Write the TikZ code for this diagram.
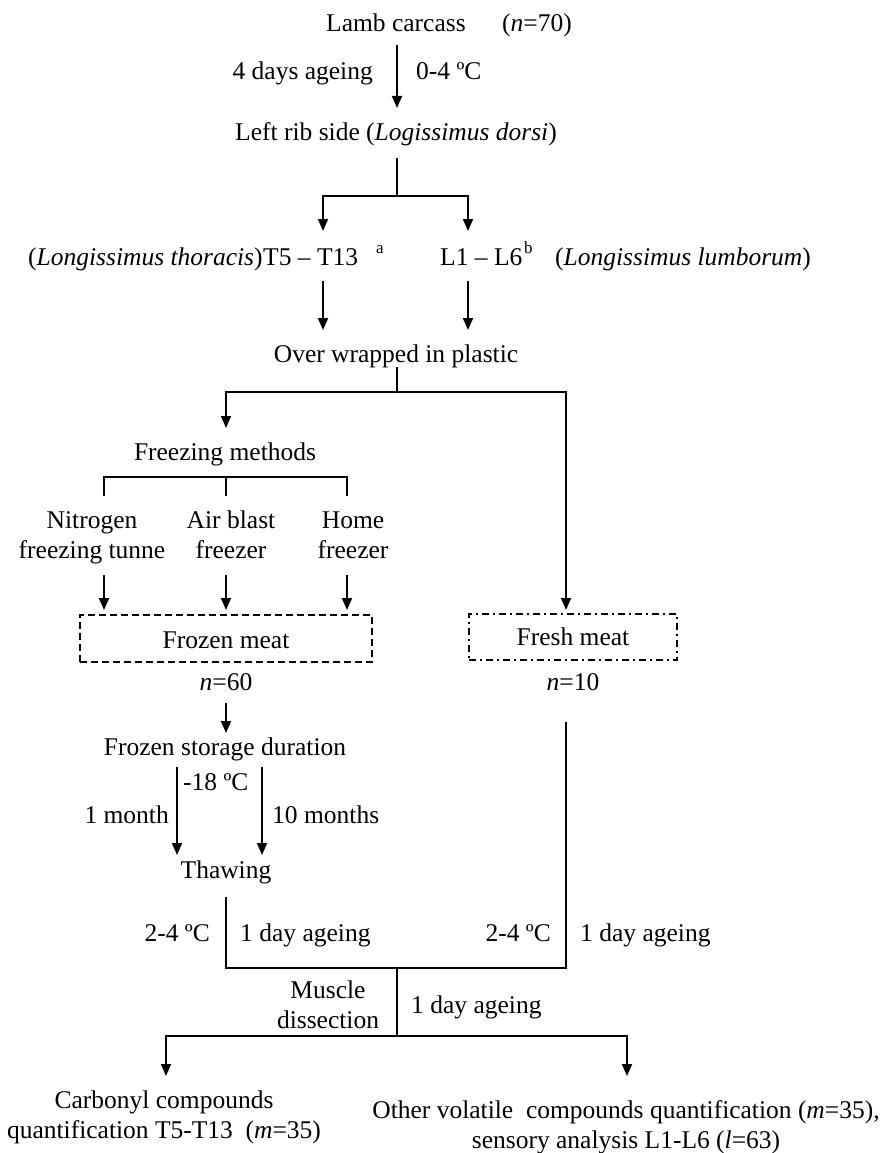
\documentclass[tikz,border=0pt]{standalone}
\usepackage{fontspec}
\setmainfont{Liberation Serif}
\usetikzlibrary{arrows.meta}
\begin{document}
\begin{tikzpicture}[x=1pt,y=-1pt,
  txt/.style={inner sep=0pt,font=\fontsize{25.5}{30}\selectfont},
  sup/.style={inner sep=0pt,font=\fontsize{17}{20}\selectfont},
  ln/.style={line width=1.8pt},
  arr/.style={line width=1.8pt,-{Triangle[length=12pt,width=10pt]}},
  frozenbox/.style={draw,line width=1.6pt,dash pattern=on 7pt off 4pt,minimum width=292pt,minimum height=47pt,inner sep=0pt},
  freshbox/.style={draw,line width=1.6pt,dash pattern=on 7pt off 4pt on 2pt off 4pt,minimum width=208pt,minimum height=46pt,inner sep=0pt}
]
\useasboundingbox[fill=white] (0,0) rectangle (882,1153);
% texts
\node[txt,anchor=base west] (lamb) at (326,32) {Lamb carcass};
\node[txt,anchor=base west] (n70) at (502,32) {(\textit{n}=70)};
\node[txt,anchor=base east] (age4) at (373,80) {4 days ageing};
\node[txt,anchor=base west] (t04) at (416,80) {0-4 ºC};
\node[txt,anchor=base] (left) at (396,140) {Left rib side (\textit{Logissimus dorsi})};
\node[txt,anchor=base west] (thor) at (28,265) {(\textit{Longissimus thoracis})};
\node[txt,anchor=base west] (tt) at (263,265) {T5 – T13};
\node[sup,anchor=base west] (supa) at (376,253) {a};
\node[txt,anchor=base west] (ll) at (440,265) {L1 – L6};
\node[sup,anchor=base west] (supb) at (524,253) {b};
\node[txt,anchor=base west] (lumb) at (555,265) {(\textit{Longissimus lumborum})};
\node[txt,anchor=base] (wrap) at (396,362) {Over wrapped in plastic};
\node[txt,anchor=base] (fm) at (225,460) {Freezing methods};
\node[txt,anchor=base] (nit) at (92,528) {Nitrogen};
\node[txt,anchor=base] (nit2) at (92,558) {freezing tunne};
\node[txt,anchor=base] (air) at (231,528) {Air blast};
\node[txt,anchor=base] (air2) at (231,558) {freezer};
\node[txt,anchor=base] (home) at (353,528) {Home};
\node[txt,anchor=base] (home2) at (353,558) {freezer};
\node[frozenbox] (frozen) at (226,638.5) {};
\node[txt,anchor=base] (frozent) at (226,648) {Frozen meat};
\node[freshbox] (fresh) at (573,637) {};
\node[txt,anchor=base] (fresht) at (573,645) {Fresh meat};
\node[txt,anchor=base] (n60) at (226,690) {\textit{n}=60};
\node[txt,anchor=base] (n10) at (573,690) {\textit{n}=10};
\node[txt,anchor=base] (fsd) at (225,755) {Frozen storage duration};
\node[txt,anchor=base west] (m18) at (183,790) {-18 ºC};
\node[txt,anchor=base east] (m1) at (169,823) {1 month};
\node[txt,anchor=base west] (m10) at (272,823) {10 months};
\node[txt,anchor=base] (thaw) at (226,878) {Thawing};
\node[txt,anchor=base east] (t24a) at (210,941) {2-4 ºC};
\node[txt,anchor=base west] (d1a) at (240,941) {1 day ageing};
\node[txt,anchor=base east] (t24b) at (551,941) {2-4 ºC};
\node[txt,anchor=base west] (d1b) at (580,941) {1 day ageing};
\node[txt,anchor=base] (mus) at (328,998) {Muscle};
\node[txt,anchor=base] (dis) at (328,1028) {dissection};
\node[txt,anchor=base west] (d1c) at (411,1013) {1 day ageing};
\node[txt,anchor=base] (carb) at (164,1108) {Carbonyl compounds};
\node[txt,anchor=base] (carb2) at (164,1138) {quantification T5-T13\ \ (\textit{m}=35)};
\node[txt,anchor=base] (oth) at (626,1118) {Other volatile\ \ compounds quantification (\textit{m}=35),};
\node[txt,anchor=base] (oth2) at (626,1148) {sensory analysis L1-L6 (\textit{l}=63)};
% junction coordinates
\coordinate (j1) at (397,196);
\coordinate (j2) at (397,392);
\coordinate (j3) at (226,477);
\coordinate (j4) at (397,968);
\coordinate (j5) at (397,1036);
% connectors
\draw[arr] (397,45) -- (397,108);
\draw[ln] (397,158) -- (j1);
\draw[arr] (j1) -| (323,231);
\draw[arr] (j1) -| (468,231);
\draw[arr] (323,281) -- (323,330);
\draw[arr] (468,281) -- (468,330);
\draw[ln] (397,367) -- (j2);
\draw[arr] (j2) -| (226,428);
\draw[arr] (j2) -| (566,610);
\draw[ln] (104,496) |- (347,477) -- (347,496);
\draw[ln] (j3) -- (226,496);
\draw[arr] (104,575) -- (104,610);
\draw[arr] (226,575) -- (226,610);
\draw[arr] (347,575) -- (347,610);
\draw[arr] (226,703) -- (226,733);
\draw[arr] (177,767) -- (177,855);
\draw[arr] (262,767) -- (262,855);
\draw[ln] (226,897) |- (566,968) -- (566,722);
\draw[ln] (j4) -- (j5);
\draw[arr] (j5) -| (166,1076);
\draw[arr] (j5) -| (627,1076);
\end{tikzpicture}
\end{document}
